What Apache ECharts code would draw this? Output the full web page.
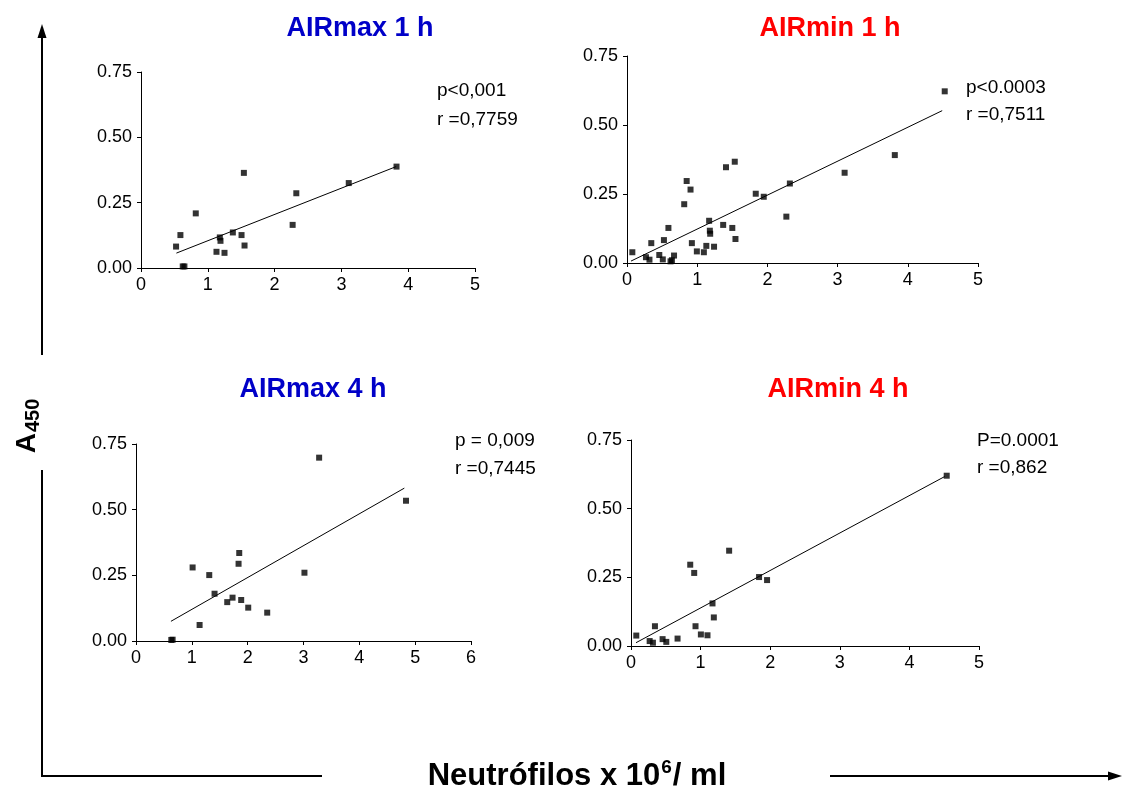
<!DOCTYPE html>
<html>
<head>
<meta charset="utf-8">
<script src="https://cdn.jsdelivr.net/npm/echarts@6/dist/echarts.min.js"></script>
<style>
html,body{margin:0;padding:0;background:#fff;}
#chart{width:1123px;height:791px;}
</style>
</head>
<body>
<div id="chart"></div>
<script>
// ---------- data ----------
const panelTitles = ['AIRmax 1 h', 'AIRmin 1 h', 'AIRmax 4 h', 'AIRmin 4 h'];
const panelStatsP = ['p<0,001', 'p<0.0003', 'p = 0,009', 'P=0.0001'];
const panelStatsR = ['r =0,7759', 'r =0,7511', 'r =0,7445', 'r =0,862'];
const yTickLabels = ['0.00', '0.25', '0.50', '0.75'];
const xMaxes = [5, 5, 6, 5];

const airMax1hX = [0.525, 0.59, 0.625, 0.65, 0.82, 1.13, 1.18, 1.19, 1.25, 1.375, 1.505, 1.54, 1.55, 2.27, 2.325, 3.11, 3.825];
const airMax1hY = [0.082, 0.126, 0.006, 0.006, 0.209, 0.062, 0.117, 0.104, 0.058, 0.136, 0.126, 0.364, 0.086, 0.165, 0.286, 0.325, 0.388];
const airMax1hFit = [[0.53, 0.057], [3.82, 0.388]];

const airMin1hX = [0.076, 0.27, 0.32, 0.346, 0.46, 0.51, 0.526, 0.59, 0.62, 0.64, 0.67, 0.815, 0.85, 0.905, 0.924, 0.995, 1.095, 1.13, 1.17, 1.18, 1.185, 1.24, 1.37, 1.41, 1.50, 1.535, 1.545, 1.834, 1.948, 2.27, 2.32, 3.10, 3.815, 4.526];
const airMin1hY = [0.039, 0.021, 0.012, 0.072, 0.029, 0.013, 0.083, 0.127, 0.006, 0.010, 0.027, 0.213, 0.297, 0.266, 0.072, 0.042, 0.039, 0.062, 0.153, 0.117, 0.106, 0.059, 0.138, 0.347, 0.127, 0.367, 0.087, 0.251, 0.240, 0.168, 0.288, 0.327, 0.391, 0.622];
const airMin1hFit = [[0.057, 0.007], [4.49, 0.552]];

const airMax4hX = [0.632, 0.656, 1.014, 1.139, 1.312, 1.407, 1.634, 1.729, 1.837, 1.849, 1.884, 2.01, 2.35, 3.017, 3.28, 4.836];
const airMax4hY = [0.004, 0.005, 0.280, 0.061, 0.251, 0.180, 0.148, 0.165, 0.294, 0.335, 0.156, 0.127, 0.108, 0.260, 0.698, 0.534];
const airMax4hFit = [[0.626, 0.075], [4.806, 0.582]];

const airMin4hX = [0.076, 0.268, 0.315, 0.344, 0.454, 0.507, 0.669, 0.851, 0.908, 0.927, 1.004, 1.099, 1.171, 1.19, 1.41, 1.84, 1.955, 4.536];
const airMin4hY = [0.038, 0.018, 0.012, 0.072, 0.025, 0.015, 0.027, 0.296, 0.266, 0.072, 0.042, 0.039, 0.155, 0.104, 0.347, 0.251, 0.240, 0.620];
const airMin4hFit = [[0.072, 0.012], [4.508, 0.617]];

// ---------- layout ----------
const grids = [
  {left: 141, top: 72, width: 334, height: 196},
  {left: 627, top: 56, width: 351, height: 207},
  {left: 136, top: 444, width: 335, height: 197},
  {left: 631, top: 440, width: 348, height: 206}
];
const titleColors = ['#0000C8', '#FF0000', '#0000C8', '#FF0000'];
const titlePos = [[360, 29], [830, 29], [313, 390], [838, 390]];
const statPos = [[437, 91, 120], [966, 88, 115], [455, 441, 469], [977, 441, 468]];

const xs = [airMax1hX, airMin1hX, airMax4hX, airMin4hX];
const ys = [airMax1hY, airMin1hY, airMax4hY, airMin4hY];
const fits = [airMax1hFit, airMin1hFit, airMax4hFit, airMin4hFit];

const FONT = '"Liberation Sans", Arial, sans-serif';
const axisCommon = {
  axisLine: {show: true, onZero: false, lineStyle: {color: '#000', width: 1}},
  axisTick: {show: true, length: 4, inside: false, lineStyle: {color: '#000', width: 1}},
  splitLine: {show: false},
  axisLabel: {color: '#000', fontSize: 18, fontFamily: FONT}
};

const xAxes = [], yAxes = [], series = [], graphics = [];
grids.forEach((g, i) => {
  xAxes.push(Object.assign({}, axisCommon, {
    type: 'value', gridIndex: i, min: 0, max: xMaxes[i], interval: 1,
    axisLabel: Object.assign({}, axisCommon.axisLabel, {margin: 8})
  }));
  yAxes.push(Object.assign({}, axisCommon, {
    type: 'value', gridIndex: i, min: 0, max: 0.75, interval: 0.25,
    axisLabel: Object.assign({}, axisCommon.axisLabel, {
      margin: 9,
      formatter: v => yTickLabels[Math.round(v / 0.25)]
    })
  }));
  series.push({
    type: 'scatter', xAxisIndex: i, yAxisIndex: i,
    symbol: 'rect', symbolSize: 6,
    itemStyle: {color: '#000'},
    data: xs[i].map((x, k) => [x, ys[i][k]]),
    silent: true
  });
  series.push({
    type: 'line', xAxisIndex: i, yAxisIndex: i,
    showSymbol: false, symbol: 'none',
    lineStyle: {color: '#000', width: 1},
    data: fits[i],
    silent: true, z: 1
  });
  graphics.push({
    type: 'text', x: titlePos[i][0], y: titlePos[i][1],
    style: {text: panelTitles[i], fill: titleColors[i], font: 'bold 27px ' + FONT,
            textAlign: 'center', textVerticalAlign: 'middle'}
  });
  graphics.push({
    type: 'text', x: statPos[i][0], y: statPos[i][1],
    style: {text: panelStatsP[i], fill: '#000', font: '19px ' + FONT,
            textAlign: 'left', textVerticalAlign: 'middle'}
  });
  graphics.push({
    type: 'text', x: statPos[i][0], y: statPos[i][2],
    style: {text: panelStatsR[i], fill: '#000', font: '19px ' + FONT,
            textAlign: 'left', textVerticalAlign: 'middle'}
  });
});

// shared axis titles and arrows
graphics.push(
  {type: 'line', shape: {x1: 42, y1: 355, x2: 42, y2: 34}, style: {stroke: '#000', lineWidth: 2}},
  {type: 'polygon', shape: {points: [[42, 24], [37.5, 38], [46.5, 38]]}, style: {fill: '#000'}},
  {type: 'line', shape: {x1: 42, y1: 470, x2: 42, y2: 777}, style: {stroke: '#000', lineWidth: 2}},
  {type: 'line', shape: {x1: 41, y1: 776, x2: 322, y2: 776}, style: {stroke: '#000', lineWidth: 2}},
  {type: 'line', shape: {x1: 830, y1: 776, x2: 1112, y2: 776}, style: {stroke: '#000', lineWidth: 2}},
  {type: 'polygon', shape: {points: [[1122, 776], [1108, 771.5], [1108, 780.5]]}, style: {fill: '#000'}},
  {
    type: 'text', x: 577, y: 776,
    style: {
      text: '{b|Neutrófilos x 10}{s|6}{b|/ ml}',
      textAlign: 'center', textVerticalAlign: 'middle',
      rich: {
        b: {font: 'bold 31px ' + FONT, fill: '#000'},
        s: {font: 'bold 19px ' + FONT, fill: '#000', verticalAlign: 'top', padding: [0, 1, 16, 1]}
      }
    }
  },
  {
    type: 'text', x: 27, y: 426, rotation: Math.PI / 2,
    style: {
      text: '{b|A}{s|450}',
      textAlign: 'center', textVerticalAlign: 'middle',
      rich: {
        b: {font: 'bold 28px ' + FONT, fill: '#000'},
        s: {font: 'bold 20px ' + FONT, fill: '#000', padding: [12, 0, 0, 1]}
      }
    }
  }
);

const chart = echarts.init(document.getElementById('chart'), null, {renderer: 'canvas'});
chart.setOption({
  animation: false,
  backgroundColor: '#fff',
  grid: grids.map(g => Object.assign({containLabel: false}, g)),
  xAxis: xAxes,
  yAxis: yAxes,
  series: series,
  graphic: graphics
});
</script>
</body>
</html>
